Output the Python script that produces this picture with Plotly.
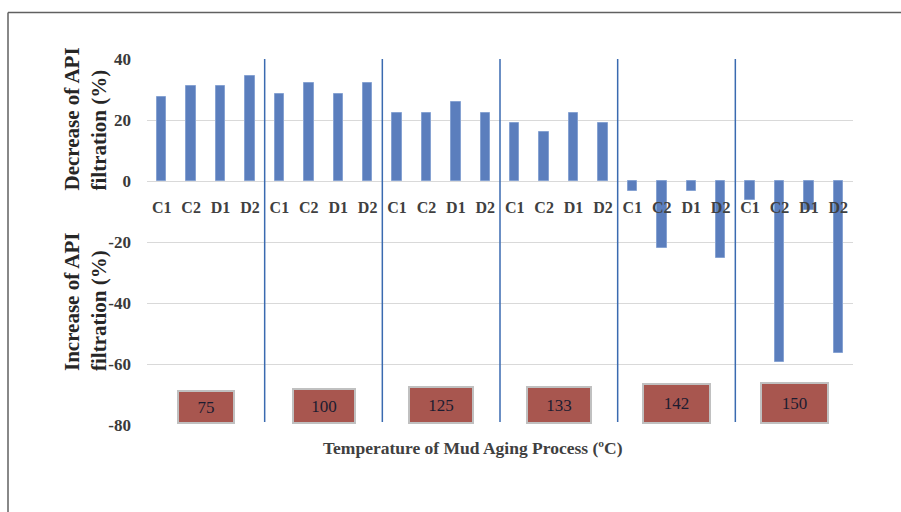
import plotly.graph_objects as go

# data
temperatures = [75, 100, 125, 133, 142, 150]
samples = ["C1", "C2", "D1", "D2"]
change_pct = [
    27.4, 31.1, 31.1, 34.4,     # 75
    28.6, 32.2, 28.6, 32.2,     # 100
    22.4, 22.4, 25.8, 22.4,     # 125
    19.1, 16.1, 22.4, 19.1,     # 133
    -3.2, -22.1, -3.2, -25.1,   # 142
    -6.3, -59.3, -9.6, -56.3,   # 150
]
y_ticks = [40, 20, 0, -20, -40, -60, -80]

serif = "Liberation Serif"
n_cat = len(temperatures) * len(samples)
x_pos = list(range(n_cat))
tick_text = samples * len(temperatures)

# plot area in pixels (for paper coords of free text)
L, R, T, B = 147, 853, 59, 425
def px_x(p):
    return (p - L) / (R - L)
def px_y(p):
    return (B - p) / (B - T)

fig = go.Figure()
fig.add_trace(go.Bar(
    x=x_pos, y=change_pct, width=0.32,
    marker=dict(color="#5b7ebd", line=dict(color="#86a2d2", width=1)),
    showlegend=False,
))

# group separators
shapes = []
for k in range(1, len(temperatures)):
    xs = k * len(samples) - 0.5
    shapes.append(dict(type="line", xref="x", yref="y", x0=xs, x1=xs, y0=-79, y1=40,
                       line=dict(color="#3a6ab0", width=1.5), layer="above"))

# outer frame (top + left edges visible)
shapes.append(dict(type="line", xref="paper", yref="paper", x0=px_x(8), x1=1.4,
                   y0=px_y(12.5), y1=px_y(12.5), line=dict(color="#606060", width=1.5)))
shapes.append(dict(type="line", xref="paper", yref="paper", x0=px_x(8), x1=px_x(8),
                   y0=px_y(12.5), y1=-0.4, line=dict(color="#606060", width=1.5)))

annotations = []
# temperature boxes
box_w = [52, 58, 60, 60, 63, 63]
box_h = [28, 30, 32, 32, 35, 36]
for i, t in enumerate(temperatures):
    xc = i * len(samples) + (len(samples) - 1) / 2
    annotations.append(dict(
        x=xc, y=-80, xref="x", yref="y", yanchor="bottom", xanchor="center",
        text=str(t), showarrow=False, width=box_w[i], height=box_h[i],
        bgcolor="#a8564f", bordercolor="#c0c0c0", borderwidth=2, borderpad=1,
        font=dict(family=serif, size=17, color="#1c1c30"), yshift=1,
    ))

title_font = dict(family=serif, size=21, color="#262626")
annotations.append(dict(
    x=px_x(85), y=px_y(193), xref="paper", yref="paper", xanchor="center", yanchor="bottom",
    text="<b>Decrease of API<br>filtration (%)</b>", textangle=-90, align="left",
    showarrow=False, font=title_font,
))
annotations.append(dict(
    x=px_x(85), y=px_y(373), xref="paper", yref="paper", xanchor="center", yanchor="bottom",
    text="<b>Increase of API<br>filtration (%)</b>", textangle=-90, align="left",
    showarrow=False, font=title_font,
))
annotations.append(dict(
    x=px_x(473), y=px_y(448), xref="paper", yref="paper", xanchor="center", yanchor="middle",
    text="<b>Temperature of Mud Aging Process (ºC)</b>", showarrow=False,
    font=dict(family=serif, size=17.5, color="#404040"),
))

fig.update_layout(
    width=901, height=512,
    margin=dict(l=L, r=901 - R, t=T, b=512 - B),
    paper_bgcolor="white", plot_bgcolor="white",
    shapes=shapes, annotations=annotations,
    xaxis=dict(
        range=[-0.5, n_cat - 0.5], tickvals=x_pos, ticktext=tick_text,
        anchor="free", position=80 / 120, showgrid=False, zeroline=False,
        showline=False, ticks="", ticklabelstandoff=15,
        tickfont=dict(family=serif, size=16, color="#404040", weight="bold"),
    ),
    yaxis=dict(
        range=[-80, 40], tickvals=y_ticks, ticktext=[str(v) for v in y_ticks],
        showgrid=True, gridcolor="#d9d9d9", gridwidth=1, zeroline=False,
        showline=False, ticks="", ticklabelstandoff=15,
        tickfont=dict(family=serif, size=17, color="#3a3a3a", weight="bold"),
    ),
    bargap=0,
)

fig.write_html("out.html", config={"displayModeBar": False},
               post_script="document.body.style.margin='0';")
